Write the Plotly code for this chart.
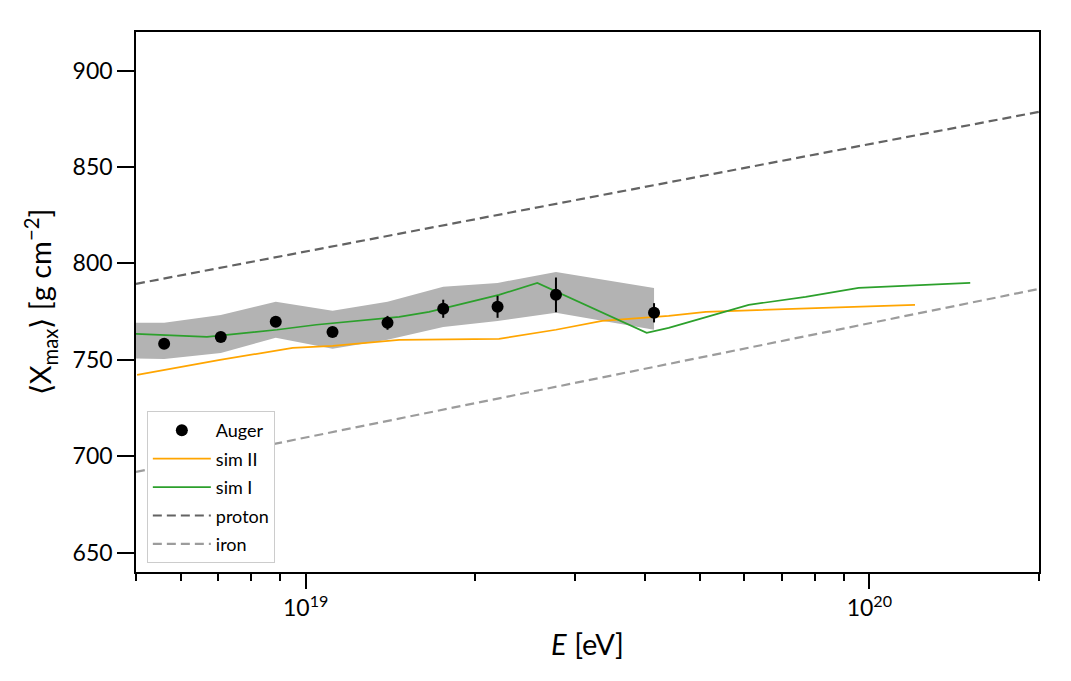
import plotly.graph_objects as go

# Auger data
auger_E = [5.61e18, 7.07e18, 8.85e18, 1.116e19, 1.397e19, 1.754e19, 2.19e19, 2.78e19, 4.15e19]
auger_X = [758.3, 761.9, 769.7, 764.5, 769.2, 776.5, 777.5, 783.7, 774.4]
auger_err = [1.8, 2.0, 2.2, 2.4, 3.6, 4.7, 5.7, 9.0, 5.0]

# systematic band
band_E = [4.4e18, 5.61e18, 7.07e18, 8.85e18, 1.116e19, 1.397e19, 1.754e19, 2.19e19, 2.78e19, 4.15e19]
band_hi = [769.2, 769.2, 773.3, 780.1, 775.4, 780.1, 787.9, 789.9, 795.6, 787.3]
band_lo = [750.8, 750.5, 753.6, 761.4, 755.7, 760.4, 767.1, 770.2, 774.4, 765.6]

# sim I (green)
simI_logE = [18.699, 18.825, 18.949, 19.019, 19.166, 19.219, 19.343, 19.411, 19.605, 19.644, 19.786, 19.887, 19.981, 20.179]
simI_X = [763.5, 761.9, 765.6, 768.2, 772.3, 774.9, 783.7, 789.9, 764.0, 766.6, 778.5, 782.7, 787.3, 789.9]

# sim II (orange)
simII_logE = [18.701, 18.848, 18.977, 19.048, 19.166, 19.343, 19.444, 19.526, 19.644, 19.710, 20.081]
simII_X = [742.2, 750.0, 756.2, 757.3, 760.4, 760.9, 765.6, 770.2, 772.8, 774.9, 778.5]

# proton / iron reference lines
ref_E = [5e18, 2e20]
proton_X = [789.4, 878.6]
iron_X = [691.9, 786.8]

x_major = [1e19, 1e20]
x_major_text = ["10<sup>19</sup>", "10<sup>20</sup>"]
x_minor = [5e18, 6e18, 7e18, 8e18, 9e18, 2e19, 3e19, 4e19, 5e19, 6e19, 7e19, 8e19, 9e19, 2e20]
y_ticks = [650, 700, 750, 800, 850, 900]

simI_E = [10 ** v for v in simI_logE]
simII_E = [10 ** v for v in simII_logE]

FONT = "Lato"
fig = go.Figure()

fig.add_trace(go.Scatter(
    x=band_E + band_E[::-1], y=band_hi + band_lo[::-1],
    fill="toself", fillcolor="#b3b3b3", line=dict(width=0),
    mode="lines", showlegend=False, hoverinfo="skip"))

fig.add_trace(go.Scatter(x=ref_E, y=proton_X, mode="lines", name="proton",
                         line=dict(color="#636363", width=2.2, dash="9px,5px"),
                         legendrank=4, legendgroup="p"))
fig.add_trace(go.Scatter(x=ref_E, y=iron_X, mode="lines", name="iron",
                         line=dict(color="#9c9c9c", width=2.2, dash="9px,5px"),
                         legendrank=5, legendgroup="i"))
fig.add_trace(go.Scatter(x=simII_E, y=simII_X, mode="lines", name="sim II",
                         line=dict(color="#ffa500", width=1.7),
                         legendrank=2, legendgroup="s2"))
fig.add_trace(go.Scatter(x=simI_E, y=simI_X, mode="lines", name="sim I",
                         line=dict(color="#2ca02c", width=1.7),
                         legendrank=3, legendgroup="s1"))
fig.add_trace(go.Scatter(x=auger_E, y=auger_X, mode="markers", name="Auger",
                         marker=dict(color="black", size=12),
                         error_y=dict(type="data", array=auger_err, color="black",
                                      thickness=2, width=0),
                         legendrank=1, legendgroup="a"))

axis_common = dict(showline=True, linecolor="black", linewidth=1.5, mirror=True,
                   showgrid=False, zeroline=False, ticks="outside",
                   tickcolor="black", tickwidth=1.5,
                   tickfont=dict(family=FONT, size=23, color="black"))

fig.update_xaxes(type="log", range=[18.699, 20.301],
                 tickmode="array", tickvals=x_major, ticktext=x_major_text, ticklen=15,
                 minor=dict(tickmode="array", tickvals=x_minor, ticklen=7,
                            tickwidth=1.5, tickcolor="black", ticks="outside"),
                 title=dict(text="<i>E</i> [eV]", font=dict(family=FONT, size=29, color="black"),
                            standoff=14),
                 **axis_common)
fig.update_yaxes(range=[640, 920], tickmode="array", tickvals=y_ticks, ticklen=17,
                 title=dict(text="⟨X<sub>max</sub>⟩ [g cm<sup>−2</sup>]",
                            font=dict(family=FONT, size=29, color="black"), standoff=12),
                 **axis_common)

fig.update_layout(
    width=1071, height=681,
    margin=dict(l=136, r=32, t=32, b=109),
    plot_bgcolor="white", paper_bgcolor="white",
    legend=dict(x=0.012, y=0.298, xanchor="left", yanchor="top",
                bgcolor="white", bordercolor="#cccccc", borderwidth=1,
                font=dict(family=FONT, size=18, color="black"),
                traceorder="grouped", tracegroupgap=2, itemwidth=58),
)

fig.write_html("out.html")
